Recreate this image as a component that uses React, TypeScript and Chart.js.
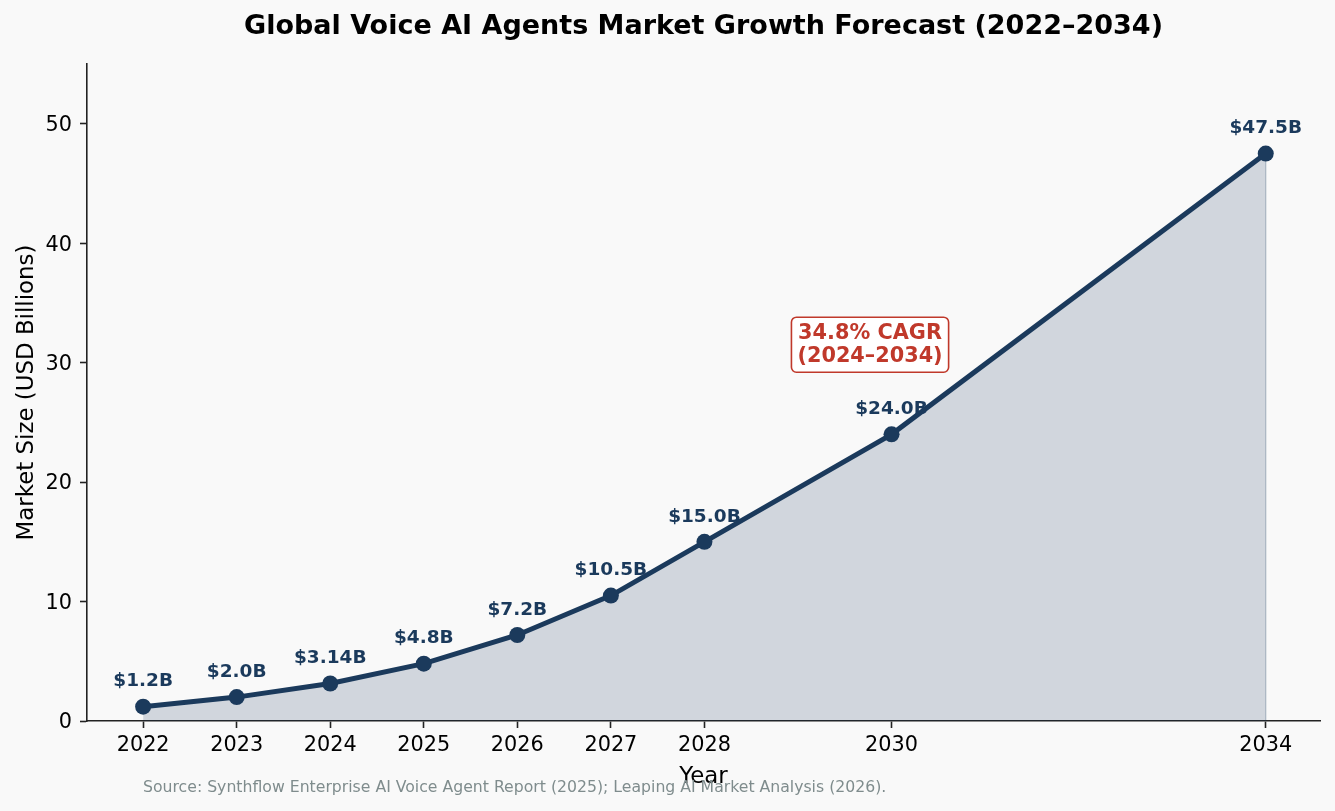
import { useEffect, useRef } from "react";
import { Chart, registerables } from "chart.js";

Chart.register(...registerables);

const years = [2022, 2023, 2024, 2025, 2026, 2027, 2028, 2030, 2034];
const marketSize = [1.2, 2.0, 3.14, 4.8, 7.2, 10.5, 15.0, 24.0, 47.5];
const valueLabels = ["$1.2B", "$2.0B", "$3.14B", "$4.8B", "$7.2B", "$10.5B", "$15.0B", "$24.0B", "$47.5B"];
const xTickValues = [2022, 2023, 2024, 2025, 2026, 2027, 2028, 2030, 2034];
const yTickValues = [0, 10, 20, 30, 40, 50];
const titleText = "Global Voice AI Agents Market Growth Forecast (2022–2034)";
const xTitleText = "Year";
const yTitleText = "Market Size (USD Billions)";
const sourceText = "Source: Synthflow Enterprise AI Voice Agent Report (2025); Leaping AI Market Analysis (2026).";
const cagrLines = ["34.8% CAGR", "(2024–2034)"];
const cagrAnchor = { x: 2029.77, y: 31.5 };

const NAVY = "#1b3a5c";
const RED = "#c0392b";
const BG = "#f9f9f9";
const FONT = "'DejaVu Sans', sans-serif";

const overlayPlugin = {
  id: "overlay",
  beforeDraw(chart: any) {
    const { ctx, width, height } = chart;
    ctx.save();
    ctx.fillStyle = BG;
    ctx.fillRect(0, 0, width, height);
    ctx.restore();
  },
  beforeDatasetsDraw(chart: any) {
    const { ctx, scales } = chart;
    const meta = chart.getDatasetMeta(0);
    ctx.save();
    const last = years.length - 1;
    const ex = scales.x.getPixelForValue(years[last]);
    ctx.strokeStyle = "rgba(27,58,92,0.3)";
    ctx.lineWidth = 1.2;
    ctx.beginPath();
    ctx.moveTo(ex, scales.y.getPixelForValue(marketSize[last]));
    ctx.lineTo(ex, scales.y.getPixelForValue(0));
    ctx.stroke();
    ctx.fillStyle = NAVY;
    ctx.font = `bold 18.5px ${FONT}`;
    ctx.textAlign = "center";
    ctx.textBaseline = "middle";
    meta.data.forEach((pt: any, i: number) => {
      ctx.fillText(valueLabels[i], pt.x, pt.y - 25);
    });
    ctx.restore();
  },
  afterDraw(chart: any) {
    const { ctx, chartArea, scales } = chart;
    ctx.save();
    ctx.fillStyle = "#000";
    ctx.font = `bold 27px ${FONT}`;
    ctx.textAlign = "center";
    ctx.textBaseline = "middle";
    ctx.fillText(titleText, (chartArea.left + chartArea.right) / 2, 27);
    const cx = scales.x.getPixelForValue(cagrAnchor.x);
    const cy = scales.y.getPixelForValue(cagrAnchor.y);
    ctx.font = `bold 20.8px ${FONT}`;
    const lineH = 23;
    const tw = Math.max(...cagrLines.map((l) => ctx.measureText(l).width));
    const bw = tw + 12;
    const bh = lineH * cagrLines.length + 9;
    ctx.beginPath();
    ctx.roundRect(cx - bw / 2, cy - bh / 2, bw, bh, 5);
    ctx.fillStyle = "#ffffff";
    ctx.fill();
    ctx.strokeStyle = RED;
    ctx.lineWidth = 1.6;
    ctx.stroke();
    ctx.fillStyle = RED;
    cagrLines.forEach((l, i) => {
      ctx.fillText(l, cx, cy - (lineH * (cagrLines.length - 1)) / 2 + i * lineH);
    });
    ctx.fillStyle = "#7f8c8d";
    ctx.font = `15.7px ${FONT}`;
    ctx.textAlign = "left";
    ctx.fillText(sourceText, 143, 788);
    ctx.restore();
  },
};

export default function App() {
  const ref = useRef<HTMLCanvasElement | null>(null);
  useEffect(() => {
    document.body.style.margin = "0";
    document.body.style.background = BG;
    if (!ref.current) return;
    const points = years.map((y, i) => ({ x: y, y: marketSize[i] }));
    const chart = new Chart(ref.current, {
      type: "line",
      data: {
        datasets: [
          {
            data: points,
            borderColor: NAVY,
            borderWidth: 5,
            backgroundColor: "rgba(27,58,92,0.18)",
            fill: "origin",
            pointRadius: 8,
            pointBackgroundColor: NAVY,
            pointBorderWidth: 0,
            pointHoverRadius: 8,
            tension: 0,
          },
        ],
      },
      options: {
        animation: false,
        responsive: false,
        devicePixelRatio: 1,
        layout: { padding: { top: 64, right: 15, left: 0, bottom: 0 } },
        plugins: { legend: { display: false }, title: { display: false }, tooltip: { enabled: false } },
        events: [],
        scales: {
          x: {
            type: "linear",
            min: 2021.4,
            max: 2034.58,
            afterBuildTicks: (s: any) => {
              s.ticks = xTickValues.map((v) => ({ value: v }));
            },
            afterFit: (s: any) => {
              s.height = 90;
            },
            grid: { display: true, drawOnChartArea: false, drawTicks: true, tickLength: 7, tickWidth: 1.6, tickColor: "#222" },
            border: { display: true, color: "#222", width: 1.6 },
            ticks: {
              color: "#000",
              font: { family: FONT, size: 20.8 },
              padding: 5,
              maxRotation: 0,
              autoSkip: false,
              callback: (v: any) => String(v),
            },
            title: { display: true, text: xTitleText, color: "#000", font: { family: FONT, size: 22.9 }, padding: { top: 0, bottom: 20 } },
          },
          y: {
            type: "linear",
            min: 0,
            max: 55,
            afterBuildTicks: (s: any) => {
              s.ticks = yTickValues.map((v) => ({ value: v }));
            },
            afterFit: (s: any) => {
              s.width = 87;
            },
            grid: { display: true, drawOnChartArea: false, drawTicks: true, tickLength: 7, tickWidth: 1.6, tickColor: "#222" },
            border: { display: true, color: "#222", width: 1.6 },
            ticks: { color: "#000", font: { family: FONT, size: 20.8 }, padding: 8, labelOffset: 2 },
            title: { display: true, text: yTitleText, color: "#000", font: { family: FONT, size: 22.9 }, padding: { top: 13, bottom: 0 } },
          },
        },
      },
      plugins: [overlayPlugin],
    } as any);
    return () => chart.destroy();
  }, []);
  return <canvas ref={ref} width={1335} height={811} style={{ display: "block" }} />;
}
